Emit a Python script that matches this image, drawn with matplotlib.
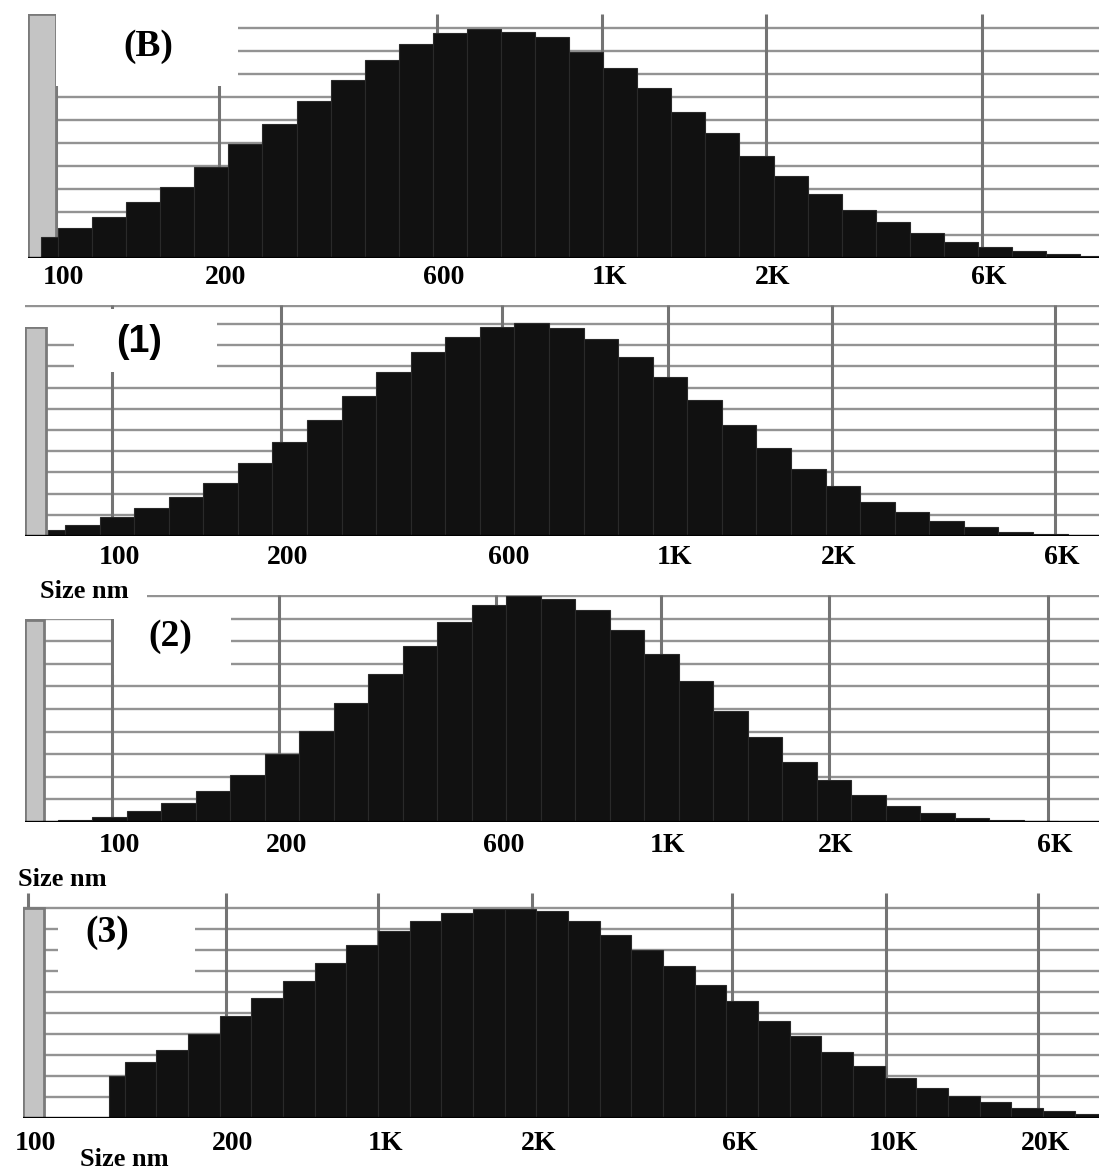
import matplotlib

matplotlib.use("Agg")
import matplotlib.pyplot as plt
import numpy as np
from matplotlib.patches import Rectangle
from matplotlib.transforms import ScaledTranslation

# bar heights (10 units per gridline)
heights_b = [9.0, 12.9, 18.0, 24.5, 31.0, 39.7, 49.6, 58.3, 68.4, 77.4, 86.0,
             93.0, 97.7, 99.4, 98.4, 95.9, 89.7, 82.5, 73.8, 63.6, 54.2, 44.3,
             35.8, 27.7, 20.9, 15.8, 10.7, 6.8, 4.9, 3.2, 1.7, 0.9]
heights_1 = [2.9, 5.2, 8.8, 13.1, 18.2, 25.2, 34.3, 44.2, 54.7, 66.0, 77.5,
             86.9, 93.7, 98.7, 100.6, 97.9, 92.8, 84.3, 74.8, 64.2, 52.4, 41.3,
             31.4, 23.8, 16.1, 11.5, 7.2, 4.4, 2.1, 1.0, 0.5]
heights_2 = [0.4, 1.0, 2.2, 4.9, 8.4, 13.7, 20.7, 30.3, 40.3, 52.8, 65.7,
             77.7, 88.5, 95.9, 99.9, 98.8, 93.7, 85.1, 74.2, 62.4, 49.1, 37.6,
             26.5, 18.5, 11.8, 6.9, 4.0, 1.9, 0.8, 0.4, 0.2, 0.1]
heights_3 = [20.1, 26.5, 32.2, 40.1, 48.4, 57.1, 65.1, 73.8, 82.5, 88.9, 93.6,
             97.6, 99.5, 99.5, 98.4, 93.6, 87.3, 80.1, 72.5, 63.5, 55.5, 46.0,
             38.9, 31.2, 24.6, 19.0, 14.3, 10.6, 7.4, 4.8, 3.1, 2.0]

# size axis labels and their place on the bin scale
ticks_b = ["100", "200", "600", "1K", "2K", "6K"]
tickpos_b = [0.94, 5.72, 12.12, 16.97, 21.78, 28.12]
ticks_1 = ["100", "200", "600", "1K", "2K", "6K"]
tickpos_1 = [2.36, 7.25, 13.64, 18.43, 23.19, 29.64]
ticks_2 = ["100", "200", "600", "1K", "2K", "6K"]
tickpos_2 = [2.57, 7.41, 13.71, 18.47, 23.35, 29.70]
ticks_3 = ["100", "200", "1K", "2K", "6K", "10K", "20K"]
tickpos_3 = [-2.05, 4.20, 9.00, 13.85, 20.19, 25.04, 29.84]

W, H = 1099, 1175
SERIF = ["Liberation Serif", "DejaVu Serif"]
SANS = ["Liberation Sans", "DejaVu Sans"]

# layout in pixels of the source picture
panels = [
    dict(h=heights_b, ticks=ticks_b, pos=tickpos_b, left=28, top=14, bottom=258,
         b0=24.0, w=34.07, unit=2.3, strip=(28, 56, 14), lab="(B)",
         lab_xy=(148, 47), lab_font=SERIF, lab_dy=20, top_line=False,
         boxes=[(56, 12, 238, 86)]),
    dict(h=heights_1, ticks=ticks_1, pos=tickpos_1, left=25, top=305, bottom=536,
         b0=30.4, w=34.57, unit=2.12, strip=(25, 46, 327), lab="(1)",
         lab_xy=(139, 342), lab_font=SANS, lab_dy=21, top_line=True,
         boxes=[(74, 309, 217, 372), (25, 309, 74, 327)]),
    dict(h=heights_2, ticks=ticks_2, pos=tickpos_2, left=25, top=595, bottom=822,
         b0=23.5, w=34.49, unit=2.26, strip=(25, 44, 620), lab="(2)",
         lab_xy=(170, 637), lab_font=SERIF, lab_dy=23, top_line=False,
         boxes=[(114, 599, 231, 675), (25, 588, 147, 619)]),
    dict(h=heights_3, ticks=ticks_3, pos=tickpos_3, left=23, top=893, bottom=1118,
         b0=93.0, w=31.67, unit=2.1, strip=(23, 44, 908), lab="(3)",
         lab_xy=(107, 933), lab_font=SERIF, lab_dy=25, top_line=False,
         boxes=[(58, 912, 195, 985)]),
]

size_labels = [(84, 592), (62, 880), (124, 1160)]

fig = plt.figure(figsize=(W / 100, H / 100), dpi=100)


def fx(px):
    return px / W


def fy(py):
    return 1 - py / H


for p in panels:
    right = W
    ax = fig.add_axes([fx(p["left"]), fy(p["bottom"]),
                       (right - p["left"]) / W, (p["bottom"] - p["top"]) / H])
    x0 = (p["left"] - p["b0"]) / p["w"]
    x1 = (right - p["b0"]) / p["w"]
    ytop = (p["bottom"] - p["top"]) / p["unit"]
    ax.set_xlim(x0, x1)
    ax.set_ylim(0, ytop)
    ax.axis("off")

    # gridlines
    ax.hlines(np.arange(10, 101, 10), x0, x1, color="#939393", lw=1.7, zorder=1)
    if p["top_line"]:
        ax.hlines([ytop - 0.6], x0, x1, color="#939393", lw=1.7, zorder=1)
    ax.vlines(p["pos"], 0, ytop, color="#747474", lw=2.2, zorder=1)

    # grey y-scale strip on the left
    sx0 = (p["strip"][0] - p["b0"]) / p["w"]
    sx1 = (p["strip"][1] - p["b0"]) / p["w"]
    sy = (p["bottom"] - p["strip"][2]) / p["unit"]
    ax.add_patch(Rectangle((sx0, 0), sx1 - sx0, sy, facecolor="#c4c4c4",
                           edgecolor="#7a7a7a", lw=2.0, zorder=1.5))

    # histogram, first bin drawn at half width
    n = len(p["h"])
    edges = np.arange(n + 1, dtype=float)
    edges[0] = 0.5
    ax.bar(edges[:-1], p["h"], width=np.diff(edges), align="edge",
           color="#111111", edgecolor="#2a2a2a", linewidth=0.8, zorder=2)
    ax.axhline(0, color="black", lw=2.4, zorder=3)

    offset = ScaledTranslation(7 / 100, -p["lab_dy"] / 100, fig.dpi_scale_trans)
    for xp, lab in zip(p["pos"], p["ticks"]):
        ax.text(xp, 0, lab, transform=ax.get_xaxis_transform() + offset,
                ha="center", va="center", fontsize=20, fontweight="bold",
                family=SERIF, clip_on=False)

    for bx0, by0, bx1, by1 in p["boxes"]:
        fig.add_artist(Rectangle((fx(bx0), fy(by1)), (bx1 - bx0) / W,
                                 (by1 - by0) / H, transform=fig.transFigure,
                                 facecolor="white", edgecolor="none", zorder=5))
    fig.text(fx(p["lab_xy"][0]), fy(p["lab_xy"][1]), p["lab"], ha="center",
             va="center", fontsize=27, fontweight="bold", family=p["lab_font"],
             zorder=6)

for sx, sy in size_labels:
    fig.text(fx(sx), fy(sy), "Size nm", ha="center", va="center", fontsize=19,
             fontweight="bold", family=SERIF, zorder=6,
             bbox=dict(facecolor="white", edgecolor="none", pad=1))

fig.savefig("out.png", dpi=100)
plt.close(fig)
